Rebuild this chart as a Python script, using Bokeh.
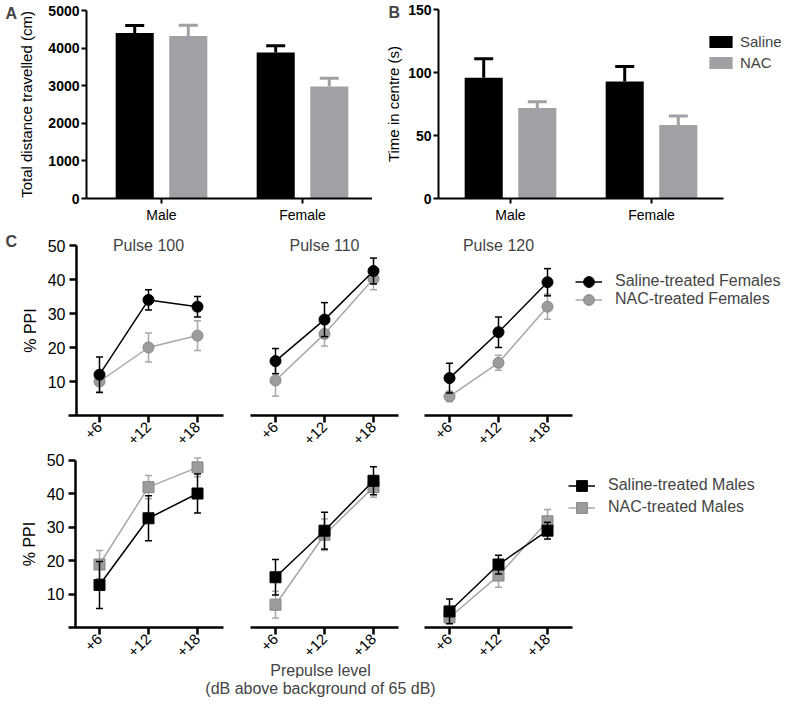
from math import pi
from bokeh.plotting import figure
from bokeh.layouts import row, column
from bokeh.models import FixedTicker, Label, Legend, LegendItem
from bokeh.embed import file_html
from bokeh.resources import INLINE

FONT = "Liberation Sans"

# ---------------- data ----------------
sexes = ["Male", "Female"]
dist_saline = [4400, 3880]
dist_saline_err = [200, 185]
dist_nac = [4320, 2980]
dist_nac_err = [290, 220]
centre_saline = [96, 93]
centre_saline_err = [15, 12]
centre_nac = [72, 58.5]
centre_nac_err = [5, 7]

levels = ["+6", "+12", "+18"]
pulses = ["Pulse 100", "Pulse 110", "Pulse 120"]
fem_saline = [[12, 34, 32], [16, 28.2, 42.5], [11, 24.5, 39.2]]
fem_saline_err = [[5.2, 3, 3], [3.7, 5, 3.8], [4.4, 4.5, 4]]
fem_nac = [[10, 20, 23.5], [10.3, 24, 40.2], [5.6, 15.5, 32]]
fem_nac_err = [[3, 4.3, 4.4], [4.6, 3.6, 3.2], [1.5, 2.2, 3.7]]
male_saline = [[12.7, 32.6, 40], [15, 28.9, 43.8], [4.8, 18.8, 28.9]]
male_saline_err = [[7, 6.7, 5.8], [5.3, 5.5, 4.2], [3.7, 2.8, 2.5]]
male_nac = [[18.8, 41.9, 47.8], [6.8, 27.7, 41.9], [3, 15.5, 31.7]]
male_nac_err = [[4.2, 3.5, 2.8], [4, 4.7, 3], [1.5, 3.5, 3.5]]

BLACK = "#000000"
GRAY_BAR = "#a1a1a5"
GRAY_PT = "#9c9c9c"
GRAY_EDGE = "#868686"
GRAY_LINE = "#a8a8a8"


def blank_fig(width, height, xr, yr):
    p = figure(width=width, height=height, x_range=xr, y_range=yr, title=None,
               min_border=0, min_border_left=0, min_border_right=0,
               min_border_top=0, min_border_bottom=0,
               output_backend="svg", toolbar_location=None, tools="")
    p.xgrid.visible = False
    p.ygrid.visible = False
    p.outline_line_color = None
    p.background_fill_color = "white"
    p.border_fill_color = "white"
    return p


def make_fig(width, height, px0, ppx, py0, ppy):
    """Figure whose frame fills the whole canvas; local pixel px0 <-> x=1,
    local pixel py0 (from top) <-> y=0."""
    xr = (1 - px0 / ppx, 1 + (width - px0) / ppx)
    yr = (-(height - py0) / ppy, py0 / ppy)
    p = blank_fig(width, height, xr, yr)
    p.xaxis.fixed_location = 0
    dx = lambda px: 1 + (px - px0) / ppx
    return p, dx, xr, yr


def style_axis(ax, fs, bold=False, lw=2.0, tick_out=5, standoff=3):
    ax.axis_line_width = lw
    ax.axis_line_color = "black"
    ax.major_tick_line_width = lw
    ax.major_tick_line_color = "black"
    ax.major_tick_out = tick_out
    ax.major_tick_in = 0
    ax.minor_tick_line_color = None
    ax.major_label_text_font = FONT
    ax.major_label_text_font_size = fs
    ax.major_label_text_font_style = "bold" if bold else "normal"
    ax.major_label_text_color = "black"
    ax.major_label_standoff = standoff
    ax.axis_label_text_font = FONT
    ax.axis_label_text_font_style = "normal"
    ax.axis_label_text_color = "black"


def letter(p, xr, yr, txt, px, py):
    p.add_layout(Label(x=xr[0], y=yr[1], x_offset=px, y_offset=-py, text=txt,
                       text_font=FONT, text_font_size="16px", text_font_style="bold",
                       text_align="left", text_baseline="middle"))


def bar_panel(width, px_male, px_yaxis, px_xend, ymax, ppy, ylabel, yticks,
              sal, sal_err, nac, nac_err, lab_standoff):
    p, dx, xr, yr = make_fig(width, 228, px_male, 141.0, 198, ppy)
    xs = list(range(1, len(sexes) + 1))
    xs_sal = [x - 0.19 for x in xs]
    xs_nac = [x + 0.19 for x in xs]
    r1 = p.vbar(x=xs_sal, top=sal, bottom=0, width=0.27, fill_color=BLACK, line_color=None)
    r2 = p.vbar(x=xs_nac, top=nac, bottom=0, width=0.27, fill_color=GRAY_BAR, line_color=None)
    up_sal = [v + e for v, e in zip(sal, sal_err)]
    up_nac = [v + e for v, e in zip(nac, nac_err)]
    p.segment(x0=xs_sal, y0=sal, x1=xs_sal, y1=up_sal, line_color=BLACK, line_width=3)
    p.scatter(x=xs_sal, y=up_sal, marker="dash", size=19, line_color=BLACK, line_width=3)
    p.segment(x0=xs_nac, y0=nac, x1=xs_nac, y1=up_nac, line_color=GRAY_BAR, line_width=3)
    p.scatter(x=xs_nac, y=up_nac, marker="dash", size=19, line_color=GRAY_BAR, line_width=3)

    style_axis(p.xaxis[0], "14px", bold=False, standoff=3)
    p.xaxis.ticker = FixedTicker(ticks=xs)
    p.xaxis.major_label_overrides = {x: s for x, s in zip(xs, sexes)}
    p.xaxis.bounds = (dx(px_yaxis), dx(px_xend))
    style_axis(p.yaxis[0], "14px", bold=True, standoff=2)
    p.yaxis.fixed_location = dx(px_yaxis)
    p.yaxis.ticker = FixedTicker(ticks=yticks)
    p.yaxis.bounds = (0, ymax)
    p.yaxis.axis_label = ylabel
    p.yaxis.axis_label_text_font_size = "15px"
    p.yaxis.axis_label_standoff = lab_standoff
    return p, xr, yr, r1, r2


# Panel A: canvas x 0..372 ; Panel B: canvas x 372..781
pA, xrA, yrA, _, _ = bar_panel(372, 161, 86, 375, 5000, 188 / 5000,
                               "Total distance travelled (cm)",
                               [0, 1000, 2000, 3000, 4000, 5000],
                               dist_saline, dist_saline_err, dist_nac, dist_nac_err, 10)
letter(pA, xrA, yrA, "A", 5, 13)
pB, xrB, yrB, rs, rn = bar_panel(409, 510 - 372, 438 - 372, 723 - 372, 150, 188.7 / 150,
                                 "Time in centre (s)", [0, 50, 100, 150],
                                 centre_saline, centre_saline_err, centre_nac,
                                 centre_nac_err, 3)
letter(pB, xrB, yrB, "B", 16, 12)
legB = Legend(items=[LegendItem(label="Saline", renderers=[rs]),
                     LegendItem(label="NAC", renderers=[rn])],
              location=(334, 157), glyph_width=29, glyph_height=15, label_height=15,
              spacing=4, label_standoff=5, padding=0, margin=0,
              border_line_color=None, background_fill_alpha=0,
              label_text_font=FONT, label_text_font_size="15px")
pB.add_layout(legB)


def draw_series(p, xs, vals, errs, line_c, fill_c, edge_c, marker):
    lo = [v - e for v, e in zip(vals, errs)]
    hi = [v + e for v, e in zip(vals, errs)]
    rl = p.line(x=xs, y=vals, line_color=line_c, line_width=1.5)
    p.segment(x0=xs, y0=lo, x1=xs, y1=hi, line_color=line_c, line_width=1.5)
    p.scatter(x=xs, y=lo, marker="dash", size=7, line_color=line_c, line_width=1.5)
    p.scatter(x=xs, y=hi, marker="dash", size=7, line_color=line_c, line_width=1.5)
    rm = p.scatter(x=xs, y=vals, marker=marker, size=11, fill_color=fill_c,
                   line_color=edge_c, line_width=1)
    return [rl, rm]


def ppi_panel(width, height, px1, py0, ppy, px_axis0, px_axis1, px_yaxis,
              sal, sal_err, nac, nac_err, marker, title=None):
    p, dx, xr, yr = make_fig(width, height, px1, 49.0, py0, ppy)
    xs = list(range(1, len(levels) + 1))
    nac_r = draw_series(p, xs, nac, nac_err, GRAY_LINE, GRAY_PT, GRAY_EDGE, marker)
    sal_r = draw_series(p, xs, sal, sal_err, BLACK, BLACK, BLACK, marker)

    style_axis(p.xaxis[0], "15px", lw=2.5, tick_out=7, standoff=2)
    p.xaxis.ticker = FixedTicker(ticks=xs)
    p.xaxis.major_label_overrides = {x: s for x, s in zip(xs, levels)}
    p.xaxis.major_label_orientation = pi / 4
    p.xaxis.bounds = (dx(px_axis0), dx(px_axis1))
    if px_yaxis is not None:
        style_axis(p.yaxis[0], "16px", lw=2.5, tick_out=7, standoff=4)
        p.yaxis.fixed_location = dx(px_yaxis)
        p.yaxis.ticker = FixedTicker(ticks=[10, 20, 30, 40, 50])
        p.yaxis.bounds = (0, 50)
        p.yaxis.axis_label = "% PPI"
        p.yaxis.axis_label_text_font_size = "16px"
        p.yaxis.axis_label_standoff = 6
    else:
        p.yaxis.visible = False
    if title:
        p.add_layout(Label(x=2, y=50, text=title, text_font=FONT, text_font_size="16px",
                           text_align="center", text_baseline="middle"))
    return p, xr, yr, sal_r, nac_r


def ppi_legend(p, labels, renderer_sets, x, ys):
    # one single-item legend per entry so that the rows can sit closer than
    # the glyph height
    for lab, rset, y in zip(labels, renderer_sets, ys):
        leg = Legend(items=[LegendItem(label=lab, renderers=rset)],
                     location=(x, y), glyph_width=27, glyph_height=27, label_height=27,
                     label_standoff=13, padding=0, margin=0,
                     border_line_color=None, background_fill_alpha=0,
                     label_text_font=FONT, label_text_font_size="16px")
        p.add_layout(leg)


# Row 2 (females): canvas y 228..448 ; columns 0..237, 237..411, 411..781
R2, H2 = 228, 220
c1, xr1, yr1, _, _ = ppi_panel(237, H2, 99, 415 - R2, 3.4, 68, 223, 76,
                               fem_saline[0], fem_saline_err[0], fem_nac[0], fem_nac_err[0],
                               "circle", pulses[0])
letter(c1, xr1, yr1, "C", 5, 13)
c2, _, _, _, _ = ppi_panel(174, H2, 275 - 237, 415 - R2, 3.4, 250 - 237, 398 - 237, None,
                           fem_saline[1], fem_saline_err[1], fem_nac[1], fem_nac_err[1],
                           "circle", pulses[1])
c3, _, _, sF, nF = ppi_panel(370, H2, 449 - 411, 415 - R2, 3.4, 424 - 411, 572 - 411, None,
                             fem_saline[2], fem_saline_err[2], fem_nac[2], fem_nac_err[2],
                             "circle", pulses[2])
ppi_legend(c3, ["Saline-treated Females", "NAC-treated Females"], [sF, nF],
           575 - 411, [R2 + H2 - (281 + 13.5), R2 + H2 - (299 + 13.5)])

# Row 3 (males): canvas y 448..678
R3, H3 = 448, 230
Y0 = 627
c4, _, _, _, _ = ppi_panel(237, H3, 99, Y0 - R3, 3.35, 68, 223, 75,
                           male_saline[0], male_saline_err[0], male_nac[0], male_nac_err[0],
                           "square")
c5, _, _, _, _ = ppi_panel(174, H3, 275 - 237, Y0 - R3, 3.35, 250 - 237, 398 - 237, None,
                           male_saline[1], male_saline_err[1], male_nac[1], male_nac_err[1],
                           "square")
c5.add_layout(Label(x=2, y=0, x_offset=-4, y_offset=-(670 - Y0), text="Prepulse level",
                    text_font=FONT, text_font_size="16px", text_align="center",
                    text_baseline="middle"))
c6, _, _, sM, nM = ppi_panel(370, H3, 449 - 411, Y0 - R3, 3.35, 424 - 411, 572 - 411, None,
                             male_saline[2], male_saline_err[2], male_nac[2], male_nac_err[2],
                             "square")
ppi_legend(c6, ["Saline-treated Males", "NAC-treated Males"], [sM, nM],
           568 - 411, [R3 + H3 - (485 + 13.5), R3 + H3 - (507 + 13.5)])

# bottom strip for the second line of the shared x-axis title (canvas y 678..697)
HT = 19
pt = blank_fig(781, HT, (0, 781), (0, HT))
pt.xaxis.visible = False
pt.yaxis.visible = False
pt.add_layout(Label(x=237 + 38 + 49, y=HT, x_offset=-4, y_offset=-(688 - 678),
                    text="(dB above background of 65 dB)",
                    text_font=FONT, text_font_size="16px", text_align="center",
                    text_baseline="middle"))

layout = column(row(pA, pB), row(c1, c2, c3), row(c4, c5, c6), pt)
open("out.html", "w").write(file_html(layout, INLINE))
